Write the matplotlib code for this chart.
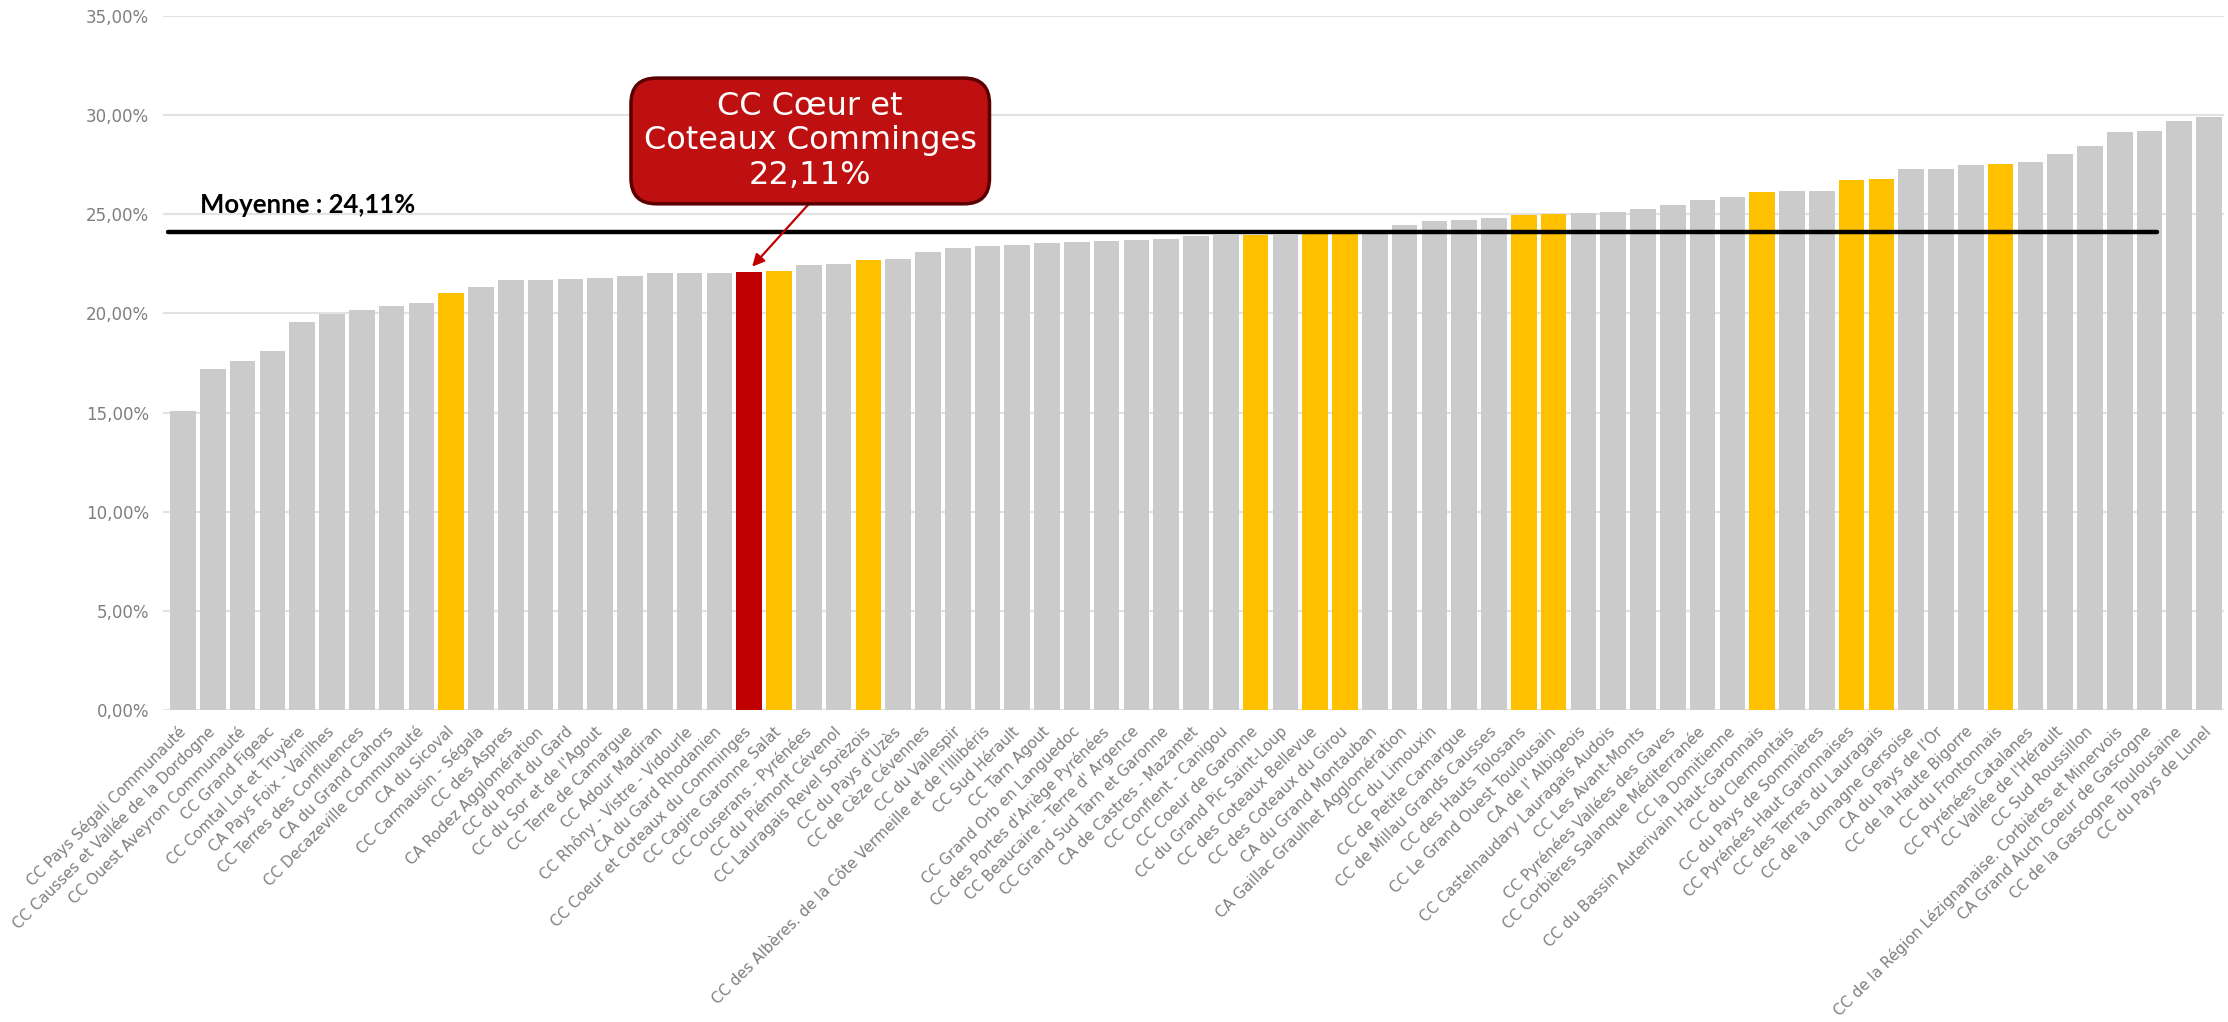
#!/usr/bin/env python3

import matplotlib
matplotlib.use( 'Agg' )
import matplotlib.pyplot as plt
import numpy as np

territoires = [
    "CC Pays Ségali Communauté",
    "CC Causses et Vallée de la Dordogne",
    "CC Ouest Aveyron Communauté",
    "CC Grand Figeac",
    "CC Comtal Lot et Truyère",
    "CA Pays Foix - Varilhes",
    "CC Terres des Confluences",
    "CA du Grand Cahors",
    "CC Decazeville Communauté",
    "CA du Sicoval",
    "CC Carmausin - Ségala",
    "CC des Aspres",
    "CA Rodez Agglomération",
    "CC du Pont du Gard",
    "CC du Sor et de l'Agout",
    "CC Terre de Camargue",
    "CC Adour Madiran",
    "CC Rhôny - Vistre - Vidourle",
    "CA du Gard Rhodanien",
    "CC Coeur et Coteaux du Comminges",
    "CC Cagire Garonne Salat",
    "CC Couserans - Pyrénées",
    "CC du Piémont Cévenol",
    "CC Lauragais Revel Sorèzois",
    "CC du Pays d'Uzès",
    "CC de Cèze Cévennes",
    "CC du Vallespir",
    "CC des Albères. de la Côte Vermeille et de l'Illibéris",
    "CC Sud Hérault",
    "CC Tarn Agout",
    "CC Grand Orb en Languedoc",
    "CC des Portes d'Ariège Pyrénées",
    "CC Beaucaire - Terre d' Argence",
    "CC Grand Sud Tarn et Garonne",
    "CA de Castres - Mazamet",
    "CC Conflent - Canigou",
    "CC Coeur de Garonne",
    "CC du Grand Pic Saint-Loup",
    "CC des Coteaux Bellevue",
    "CC des Coteaux du Girou",
    "CA du Grand Montauban",
    "CA Gaillac Graulhet Agglomération",
    "CC du Limouxin",
    "CC de Petite Camargue",
    "CC de Millau Grands Causses",
    "CC des Hauts Tolosans",
    "CC Le Grand Ouest Toulousain",
    "CA de l' Albigeois",
    "CC Castelnaudary Lauragais Audois",
    "CC Les Avant-Monts",
    "CC Pyrénées Vallées des Gaves",
    "CC Corbières Salanque Méditerranée",
    "CC la Domitienne",
    "CC du Bassin Auterivain Haut-Garonnais",
    "CC du Clermontais",
    "CC du Pays de Sommières",
    "CC Pyrénées Haut Garonnaises",
    "CC des Terres du Lauragais",
    "CC de la Lomagne Gersoise",
    "CA du Pays de l'Or",
    "CC de la Haute Bigorre",
    "CC du Frontonnais",
    "CC Pyrénées Catalanes",
    "CC Vallée de l'Hérault",
    "CC Sud Roussillon",
    "CC de la Région Lézignanaise. Corbières et Minervois",
    "CA Grand Auch Coeur de Gascogne",
    "CC de la Gascogne Toulousaine",
    "CC du Pays de Lunel",
]

# part en %
valeurs = [
    15.08, 17.18, 17.60, 18.10, 19.59, 19.97, 20.19, 20.37, 20.51, 21.02,
    21.34, 21.71, 21.71, 21.75, 21.81, 21.87, 22.03, 22.03, 22.04, 22.11,
    22.16, 22.42, 22.50, 22.70, 22.73, 23.08, 23.32, 23.40, 23.47, 23.55,
    23.62, 23.67, 23.68, 23.78, 23.92, 23.97, 23.97, 23.98, 24.08, 24.10,
    24.14, 24.45, 24.67, 24.73, 24.80, 24.95, 25.00, 25.05, 25.13, 25.25,
    25.48, 25.72, 25.87, 26.13, 26.17, 26.17, 26.72, 26.80, 27.30, 27.30,
    27.50, 27.55, 27.65, 28.02, 28.47, 29.15, 29.20, 29.73, 29.90,
]

# territoires de Haute-Garonne (jaune) et territoire mis en avant (rouge)
haute_garonne = [
    "CA du Sicoval", "CC Cagire Garonne Salat", "CC Lauragais Revel Sorèzois",
    "CC Coeur de Garonne", "CC des Coteaux Bellevue", "CC des Coteaux du Girou",
    "CC des Hauts Tolosans", "CC Le Grand Ouest Toulousain",
    "CC du Bassin Auterivain Haut-Garonnais", "CC Pyrénées Haut Garonnaises",
    "CC des Terres du Lauragais", "CC du Frontonnais",
]
focus = "CC Coeur et Coteaux du Comminges"
focus_label = "CC Cœur et\nCoteaux Comminges\n22,11%"
moyenne = 24.11
yticks = [ 0, 5, 10, 15, 20, 25, 30, 35 ]

GRIS = '#CBCBCB'
JAUNE = '#FFC000'
ROUGE = '#C00000'
TEXTE = '#7F7F7F'

couleurs = []
for t in territoires:
    if t == focus:
        couleurs += [ ROUGE ]
    elif t in haute_garonne:
        couleurs += [ JAUNE ]
    else:
        couleurs += [ GRIS ]

x = np.arange( len( territoires ) )
i_focus = territoires.index( focus )

fig = plt.figure( figsize = ( 22.28, 10.22 ), dpi = 100 )
ax = fig.add_axes( [ 0.0732, 0.3053, 0.925, 0.679 ] )

ax.bar( x, valeurs, width = 0.86, color = couleurs, zorder = 2 )

ax.set_xlim( -0.67, len( territoires ) - 0.5 )
ax.set_ylim( 0, 35 )
ax.set_yticks( yticks )
ax.set_yticklabels( [ ( "%.2f%%" % v ).replace( '.', ',' ) for v in yticks ],
                    color = TEXTE, fontsize = 12 )
ax.yaxis.grid( True, color = '#E2E2E2', linewidth = 1.5, zorder = 0 )
ax.set_axisbelow( True )
ax.tick_params( axis = 'both', length = 0 )
ax.tick_params( axis = 'y', pad = 10 )
for s in ax.spines.values():
    s.set_visible( False )

ax.set_xticks( x )
ax.set_xticklabels( territoires, rotation = 45, ha = 'right', va = 'center',
                    rotation_mode = 'anchor', color = TEXTE, fontsize = 10.8 )
ax.tick_params( axis = 'x', pad = 14 )

# ligne de moyenne
ax.plot( [ -0.5, 66.25 ], [ moyenne, moyenne ], color = 'black', linewidth = 3.2,
         solid_capstyle = 'round', zorder = 3 )
ax.text( 0.57, moyenne + 0.95, ( "Moyenne : %.2f%%" % moyenne ).replace( '.', ',' ),
         fontsize = 18.5, fontweight = 'bold', color = 'black', ha = 'left', va = 'baseline',
         family = [ 'Lato', 'DejaVu Sans' ] )

# bulle du territoire mis en avant
ax.text( i_focus + 2.05, 28.7, focus_label, fontsize = 23, color = 'white',
         ha = 'center', va = 'center', linespacing = 1.15, zorder = 5,
         bbox = dict( boxstyle = 'round,pad=0.4,rounding_size=0.8', facecolor = '#BE1010',
                      edgecolor = '#5A0000', linewidth = 2.5 ) )
ax.annotate( '', xy = ( i_focus + 0.1, valeurs[i_focus] + 0.25 ),
             xytext = ( i_focus + 2.05, 25.6 ),
             arrowprops = dict( arrowstyle = '-|>', color = '#C00000', lw = 1.6,
                                mutation_scale = 18, shrinkA = 0, shrinkB = 0 ),
             zorder = 4 )

fig.savefig( "out.png", dpi = 100 )
